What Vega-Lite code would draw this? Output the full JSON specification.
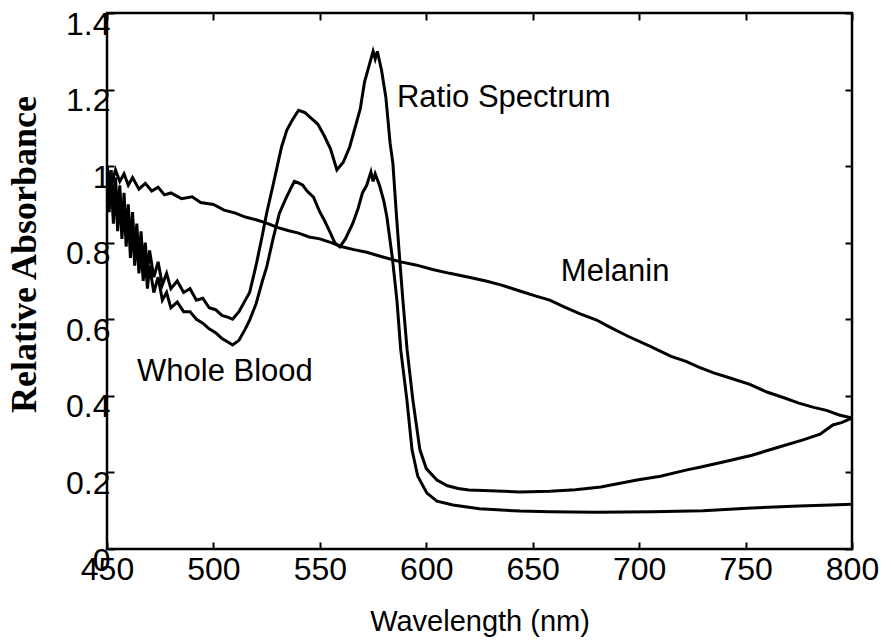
{
  "$schema": "https://vega.github.io/schema/vega-lite/v6.json",
  "width": 745,
  "height": 536,
  "autosize": {"type": "none"},
  "padding": {"left": 107, "top": 13, "right": 39, "bottom": 95},
  "background": "white",
  "config": {
    "view": {"stroke": "black", "strokeWidth": 2.5},
    "font": "Liberation Sans"
  },
  "datasets": {
    "curves": [
      {"series": "ratio", "wl": 450, "a": 1.0}, {"series": "ratio", "wl": 451, "a": 0.9}, {"series": "ratio", "wl": 452, "a": 0.99}, {"series": "ratio", "wl": 453, "a": 0.87}, {"series": "ratio", "wl": 454, "a": 0.97}, {"series": "ratio", "wl": 455, "a": 0.86}, {"series": "ratio", "wl": 456, "a": 0.95}, {"series": "ratio", "wl": 457, "a": 0.83}, {"series": "ratio", "wl": 458, "a": 0.93}, {"series": "ratio", "wl": 459, "a": 0.82}, {"series": "ratio", "wl": 460, "a": 0.9}, {"series": "ratio", "wl": 461, "a": 0.79}, {"series": "ratio", "wl": 462, "a": 0.88}, {"series": "ratio", "wl": 463, "a": 0.77}, {"series": "ratio", "wl": 464, "a": 0.85}, {"series": "ratio", "wl": 465, "a": 0.75}, {"series": "ratio", "wl": 466, "a": 0.83}, {"series": "ratio", "wl": 467, "a": 0.74}, {"series": "ratio", "wl": 468, "a": 0.8}, {"series": "ratio", "wl": 469, "a": 0.72}, {"series": "ratio", "wl": 470, "a": 0.78}, {"series": "ratio", "wl": 472, "a": 0.71}, {"series": "ratio", "wl": 474, "a": 0.75}, {"series": "ratio", "wl": 476, "a": 0.69}, {"series": "ratio", "wl": 478, "a": 0.72}, {"series": "ratio", "wl": 480, "a": 0.68}, {"series": "ratio", "wl": 483, "a": 0.7}, {"series": "ratio", "wl": 486, "a": 0.67}, {"series": "ratio", "wl": 489, "a": 0.68}, {"series": "ratio", "wl": 492, "a": 0.65}, {"series": "ratio", "wl": 495, "a": 0.655}, {"series": "ratio", "wl": 498, "a": 0.63}, {"series": "ratio", "wl": 501, "a": 0.625}, {"series": "ratio", "wl": 504, "a": 0.61}, {"series": "ratio", "wl": 507, "a": 0.605}, {"series": "ratio", "wl": 509, "a": 0.6}, {"series": "ratio", "wl": 512, "a": 0.62}, {"series": "ratio", "wl": 515, "a": 0.65}, {"series": "ratio", "wl": 517, "a": 0.67}, {"series": "ratio", "wl": 520, "a": 0.74}, {"series": "ratio", "wl": 523, "a": 0.82}, {"series": "ratio", "wl": 525, "a": 0.877}, {"series": "ratio", "wl": 528, "a": 0.95}, {"series": "ratio", "wl": 530, "a": 1.0}, {"series": "ratio", "wl": 532, "a": 1.05}, {"series": "ratio", "wl": 534.5, "a": 1.094}, {"series": "ratio", "wl": 537, "a": 1.12}, {"series": "ratio", "wl": 540, "a": 1.146}, {"series": "ratio", "wl": 543, "a": 1.14}, {"series": "ratio", "wl": 546, "a": 1.125}, {"series": "ratio", "wl": 549, "a": 1.11}, {"series": "ratio", "wl": 552, "a": 1.08}, {"series": "ratio", "wl": 555, "a": 1.045}, {"series": "ratio", "wl": 558, "a": 0.99}, {"series": "ratio", "wl": 561, "a": 1.01}, {"series": "ratio", "wl": 564, "a": 1.05}, {"series": "ratio", "wl": 567, "a": 1.11}, {"series": "ratio", "wl": 569, "a": 1.15}, {"series": "ratio", "wl": 571, "a": 1.22}, {"series": "ratio", "wl": 573, "a": 1.26}, {"series": "ratio", "wl": 575, "a": 1.3}, {"series": "ratio", "wl": 576, "a": 1.28}, {"series": "ratio", "wl": 577, "a": 1.3}, {"series": "ratio", "wl": 579, "a": 1.25}, {"series": "ratio", "wl": 581, "a": 1.18}, {"series": "ratio", "wl": 583, "a": 1.06}, {"series": "ratio", "wl": 584.3, "a": 1.008}, {"series": "ratio", "wl": 586, "a": 0.87}, {"series": "ratio", "wl": 587.6, "a": 0.75}, {"series": "ratio", "wl": 589, "a": 0.65}, {"series": "ratio", "wl": 591, "a": 0.52}, {"series": "ratio", "wl": 593.7, "a": 0.389}, {"series": "ratio", "wl": 597, "a": 0.259}, {"series": "ratio", "wl": 600, "a": 0.21}, {"series": "ratio", "wl": 605, "a": 0.18}, {"series": "ratio", "wl": 610, "a": 0.165}, {"series": "ratio", "wl": 615, "a": 0.158}, {"series": "ratio", "wl": 620, "a": 0.154}, {"series": "ratio", "wl": 630, "a": 0.152}, {"series": "ratio", "wl": 644, "a": 0.149}, {"series": "ratio", "wl": 658, "a": 0.151}, {"series": "ratio", "wl": 670, "a": 0.155}, {"series": "ratio", "wl": 682, "a": 0.162}, {"series": "ratio", "wl": 699, "a": 0.18}, {"series": "ratio", "wl": 710, "a": 0.19}, {"series": "ratio", "wl": 722, "a": 0.206}, {"series": "ratio", "wl": 729, "a": 0.214}, {"series": "ratio", "wl": 740, "a": 0.228}, {"series": "ratio", "wl": 753, "a": 0.245}, {"series": "ratio", "wl": 765, "a": 0.265}, {"series": "ratio", "wl": 777, "a": 0.285}, {"series": "ratio", "wl": 785, "a": 0.3}, {"series": "ratio", "wl": 791, "a": 0.324}, {"series": "ratio", "wl": 795, "a": 0.33}, {"series": "ratio", "wl": 800, "a": 0.342},

      {"series": "blood", "wl": 450, "a": 0.98}, {"series": "blood", "wl": 451, "a": 0.88}, {"series": "blood", "wl": 452, "a": 0.97}, {"series": "blood", "wl": 453, "a": 0.85}, {"series": "blood", "wl": 454, "a": 0.95}, {"series": "blood", "wl": 455, "a": 0.83}, {"series": "blood", "wl": 456, "a": 0.93}, {"series": "blood", "wl": 457, "a": 0.81}, {"series": "blood", "wl": 458, "a": 0.9}, {"series": "blood", "wl": 459, "a": 0.79}, {"series": "blood", "wl": 460, "a": 0.88}, {"series": "blood", "wl": 461, "a": 0.76}, {"series": "blood", "wl": 462, "a": 0.85}, {"series": "blood", "wl": 463, "a": 0.74}, {"series": "blood", "wl": 464, "a": 0.82}, {"series": "blood", "wl": 465, "a": 0.72}, {"series": "blood", "wl": 466, "a": 0.79}, {"series": "blood", "wl": 467, "a": 0.7}, {"series": "blood", "wl": 468, "a": 0.76}, {"series": "blood", "wl": 469, "a": 0.68}, {"series": "blood", "wl": 470, "a": 0.74}, {"series": "blood", "wl": 472, "a": 0.67}, {"series": "blood", "wl": 474, "a": 0.71}, {"series": "blood", "wl": 476, "a": 0.65}, {"series": "blood", "wl": 478, "a": 0.67}, {"series": "blood", "wl": 480, "a": 0.63}, {"series": "blood", "wl": 483, "a": 0.645}, {"series": "blood", "wl": 486, "a": 0.62}, {"series": "blood", "wl": 489, "a": 0.62}, {"series": "blood", "wl": 492, "a": 0.6}, {"series": "blood", "wl": 495, "a": 0.59}, {"series": "blood", "wl": 498, "a": 0.575}, {"series": "blood", "wl": 501, "a": 0.565}, {"series": "blood", "wl": 504, "a": 0.55}, {"series": "blood", "wl": 507, "a": 0.54}, {"series": "blood", "wl": 509, "a": 0.533}, {"series": "blood", "wl": 512, "a": 0.545}, {"series": "blood", "wl": 515, "a": 0.575}, {"series": "blood", "wl": 517, "a": 0.598}, {"series": "blood", "wl": 520, "a": 0.64}, {"series": "blood", "wl": 523, "a": 0.7}, {"series": "blood", "wl": 525, "a": 0.736}, {"series": "blood", "wl": 528, "a": 0.81}, {"series": "blood", "wl": 531, "a": 0.877}, {"series": "blood", "wl": 534, "a": 0.915}, {"series": "blood", "wl": 536, "a": 0.938}, {"series": "blood", "wl": 538, "a": 0.96}, {"series": "blood", "wl": 540, "a": 0.956}, {"series": "blood", "wl": 542, "a": 0.95}, {"series": "blood", "wl": 544, "a": 0.935}, {"series": "blood", "wl": 547, "a": 0.919}, {"series": "blood", "wl": 550, "a": 0.88}, {"series": "blood", "wl": 552, "a": 0.86}, {"series": "blood", "wl": 555, "a": 0.825}, {"series": "blood", "wl": 557, "a": 0.8}, {"series": "blood", "wl": 559.4, "a": 0.789}, {"series": "blood", "wl": 562, "a": 0.81}, {"series": "blood", "wl": 565.5, "a": 0.851}, {"series": "blood", "wl": 568, "a": 0.89}, {"series": "blood", "wl": 570, "a": 0.93}, {"series": "blood", "wl": 572, "a": 0.95}, {"series": "blood", "wl": 574, "a": 0.985}, {"series": "blood", "wl": 575, "a": 0.96}, {"series": "blood", "wl": 576, "a": 0.98}, {"series": "blood", "wl": 578, "a": 0.95}, {"series": "blood", "wl": 580, "a": 0.91}, {"series": "blood", "wl": 581.5, "a": 0.867}, {"series": "blood", "wl": 584, "a": 0.763}, {"series": "blood", "wl": 586.2, "a": 0.65}, {"series": "blood", "wl": 588, "a": 0.52}, {"series": "blood", "wl": 590.9, "a": 0.389}, {"series": "blood", "wl": 593.3, "a": 0.259}, {"series": "blood", "wl": 596, "a": 0.19}, {"series": "blood", "wl": 600.3, "a": 0.146}, {"series": "blood", "wl": 605, "a": 0.125}, {"series": "blood", "wl": 612.5, "a": 0.115}, {"series": "blood", "wl": 625, "a": 0.105}, {"series": "blood", "wl": 644, "a": 0.099}, {"series": "blood", "wl": 658, "a": 0.097}, {"series": "blood", "wl": 680, "a": 0.096}, {"series": "blood", "wl": 706, "a": 0.097}, {"series": "blood", "wl": 730, "a": 0.1}, {"series": "blood", "wl": 753, "a": 0.107}, {"series": "blood", "wl": 775, "a": 0.112}, {"series": "blood", "wl": 790, "a": 0.115}, {"series": "blood", "wl": 800, "a": 0.117},

      {"series": "melanin", "wl": 450, "a": 1.0}, {"series": "melanin", "wl": 452, "a": 0.95}, {"series": "melanin", "wl": 454, "a": 0.99}, {"series": "melanin", "wl": 456, "a": 0.96}, {"series": "melanin", "wl": 458, "a": 0.98}, {"series": "melanin", "wl": 460, "a": 0.95}, {"series": "melanin", "wl": 462, "a": 0.97}, {"series": "melanin", "wl": 465, "a": 0.94}, {"series": "melanin", "wl": 468, "a": 0.955}, {"series": "melanin", "wl": 471, "a": 0.935}, {"series": "melanin", "wl": 474, "a": 0.945}, {"series": "melanin", "wl": 477, "a": 0.925}, {"series": "melanin", "wl": 480, "a": 0.93}, {"series": "melanin", "wl": 485, "a": 0.915}, {"series": "melanin", "wl": 490, "a": 0.92}, {"series": "melanin", "wl": 494, "a": 0.905}, {"series": "melanin", "wl": 500, "a": 0.9}, {"series": "melanin", "wl": 505, "a": 0.885}, {"series": "melanin", "wl": 510, "a": 0.878}, {"series": "melanin", "wl": 515, "a": 0.867}, {"series": "melanin", "wl": 520, "a": 0.86}, {"series": "melanin", "wl": 525, "a": 0.851}, {"series": "melanin", "wl": 530, "a": 0.84}, {"series": "melanin", "wl": 535, "a": 0.832}, {"series": "melanin", "wl": 540, "a": 0.825}, {"series": "melanin", "wl": 545, "a": 0.815}, {"series": "melanin", "wl": 550, "a": 0.81}, {"series": "melanin", "wl": 556, "a": 0.799}, {"series": "melanin", "wl": 560, "a": 0.79}, {"series": "melanin", "wl": 566, "a": 0.782}, {"series": "melanin", "wl": 572, "a": 0.775}, {"series": "melanin", "wl": 580, "a": 0.762}, {"series": "melanin", "wl": 588, "a": 0.75}, {"series": "melanin", "wl": 595, "a": 0.742}, {"series": "melanin", "wl": 603, "a": 0.73}, {"series": "melanin", "wl": 611, "a": 0.72}, {"series": "melanin", "wl": 620, "a": 0.71}, {"series": "melanin", "wl": 628, "a": 0.7}, {"series": "melanin", "wl": 635, "a": 0.69}, {"series": "melanin", "wl": 645, "a": 0.672}, {"series": "melanin", "wl": 652, "a": 0.66}, {"series": "melanin", "wl": 658, "a": 0.65}, {"series": "melanin", "wl": 665, "a": 0.632}, {"series": "melanin", "wl": 672, "a": 0.615}, {"series": "melanin", "wl": 680, "a": 0.598}, {"series": "melanin", "wl": 686, "a": 0.58}, {"series": "melanin", "wl": 695, "a": 0.555}, {"series": "melanin", "wl": 705, "a": 0.53}, {"series": "melanin", "wl": 715, "a": 0.503}, {"series": "melanin", "wl": 722, "a": 0.49}, {"series": "melanin", "wl": 728, "a": 0.475}, {"series": "melanin", "wl": 735, "a": 0.46}, {"series": "melanin", "wl": 742, "a": 0.448}, {"series": "melanin", "wl": 752, "a": 0.43}, {"series": "melanin", "wl": 760, "a": 0.41}, {"series": "melanin", "wl": 768, "a": 0.395}, {"series": "melanin", "wl": 775, "a": 0.381}, {"series": "melanin", "wl": 782, "a": 0.37}, {"series": "melanin", "wl": 788, "a": 0.362}, {"series": "melanin", "wl": 794, "a": 0.35}, {"series": "melanin", "wl": 800, "a": 0.342}
    ],
    "labels": [
      {"label": "Ratio Spectrum", "wl": 586.2, "a": 1.178},
      {"label": "Melanin", "wl": 663.2, "a": 0.723},
      {"label": "Whole Blood", "wl": 464.1, "a": 0.462}
    ]
  },
  "layer": [
    {
      "data": {"name": "curves"},
      "mark": {"type": "line", "color": "black", "strokeWidth": 3, "clip": true},
      "encoding": {
        "x": {
          "field": "wl", "type": "quantitative",
          "scale": {"domain": [450, 800], "nice": false, "zero": false},
          "axis": {
            "orient": "bottom", "values": [450, 500, 550, 600, 650, 700, 750, 800],
            "title": "Wavelength (nm)", "titleFont": "Liberation Sans", "titleFontSize": 29, "titleFontWeight": "normal", "titleColor": "black", "titlePadding": 22,
            "labelFont": "Liberation Sans", "labelFontSize": 32, "labelColor": "black", "labelPadding": 12,
            "tickSize": -7, "tickColor": "black", "tickWidth": 2, "domain": false, "grid": false, "labelFlush": false, "labelOverlap": false
          }
        },
        "y": {
          "field": "a", "type": "quantitative",
          "scale": {"domain": [0, 1.4], "nice": false},
          "axis": {
            "orient": "left", "values": [0, 0.2, 0.4, 0.6, 0.8, 1, 1.2, 1.4], "format": "~g",
            "title": "Relative Absorbance", "titleFont": "Liberation Serif", "titleFontSize": 36, "titleFontWeight": "bold", "titleColor": "black",
            "titleX": -83, "titleY": 241, "titleBaseline": "middle", "titleAngle": -90,
            "labelFont": "Liberation Sans", "labelFontSize": 32, "labelColor": "black", "labelPadding": 4,
            "labelBaseline": "top", "labelOffset": -4,
            "tickSize": -7, "tickColor": "black", "tickWidth": 2, "domain": false, "grid": false, "labelFlush": false, "labelOverlap": false
          }
        },
        "detail": {"field": "series"},
        "order": {"field": "wl", "type": "quantitative"}
      }
    },
    {
      "data": {"name": "labels"},
      "mark": {"type": "text", "align": "left", "baseline": "middle", "font": "Liberation Sans", "fontSize": 31, "color": "black"},
      "encoding": {
        "x": {
          "field": "wl", "type": "quantitative",
          "axis": {"orient": "top", "values": [450, 500, 550, 600, 650, 700, 750, 800], "labels": false, "title": null, "tickSize": -7, "tickColor": "black", "tickWidth": 2, "domain": false, "grid": false}
        },
        "y": {
          "field": "a", "type": "quantitative",
          "axis": {"orient": "right", "values": [0, 0.2, 0.4, 0.6, 0.8, 1, 1.2, 1.4], "labels": false, "title": null, "tickSize": -7, "tickColor": "black", "tickWidth": 2, "domain": false, "grid": false}
        },
        "text": {"field": "label"}
      }
    }
  ],
  "resolve": {"axis": {"x": "independent", "y": "independent"}}
}
